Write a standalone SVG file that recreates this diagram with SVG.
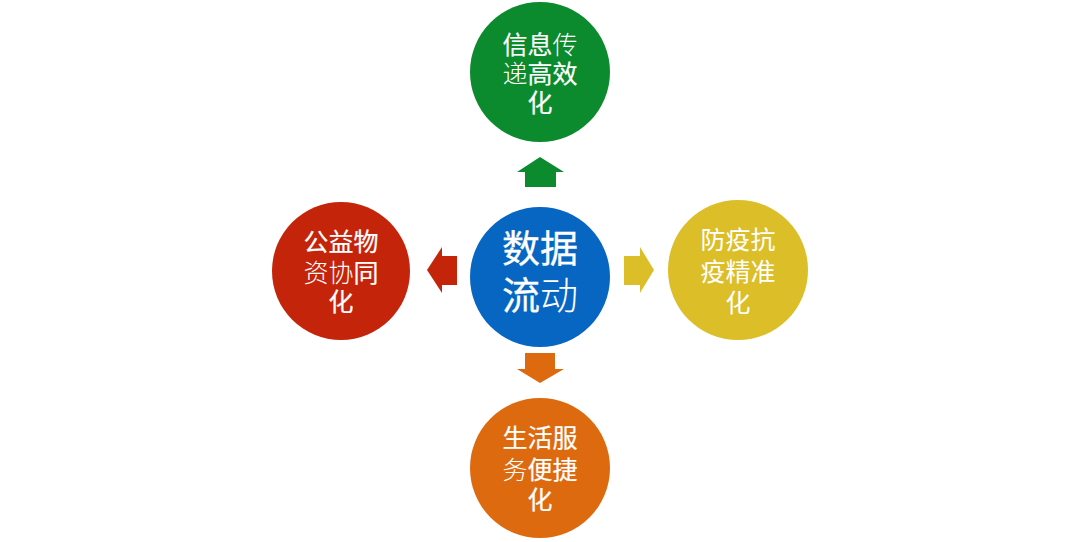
<svg xmlns="http://www.w3.org/2000/svg" width="1080" height="542" viewBox="0 0 1080 542">
<style>
text{font-family:"Noto Sans CJK SC","Noto Sans",sans-serif;fill:#fff;stroke:#fff;stroke-width:0.2;text-anchor:middle;dominant-baseline:central;font-size:25px;font-weight:normal}
.c{font-size:38px;stroke-width:0.3}
.t{font-weight:200;stroke-width:0}
.r{stroke-width:0}
</style>
<rect width="1080" height="542" fill="#fff"/>
<g id="connectors">
<polygon points="540,157 564,172 556,172 556,187 525,187 525,172 517,172" fill="#0B8A2E"/>
<polygon points="427,270 442,247 442,256 457,256 457,285 442,285 442,293" fill="#C4250A"/>
<polygon points="654,270 640,247 640,256 624,256 624,285 640,285 640,293" fill="#DBBE28"/>
<polygon points="540,383 564,369 555,369 555,353 525,353 525,369 517,369" fill="#DE6A10"/>
</g>
<g id="node-top">
<circle cx="540" cy="72" r="70" fill="#0B8A2E"/>
<text x="540" y="43">信息<tspan class="t">传</tspan></text>
<text x="540" y="72"><tspan class="t">递</tspan>高效</text>
<text x="540" y="101">化</text>
</g>
<g id="node-center">
<circle cx="540" cy="277" r="70" fill="#0766C2"/>
<text class="c" x="540" y="245">数据</text>
<text class="c" x="540" y="292">流<tspan class="t">动</tspan></text>
</g>
<g id="node-left">
<circle cx="341" cy="271" r="69" fill="#C4250A"/>
<text x="341" y="240">公益物</text>
<text x="341" y="271"><tspan class="t">资协</tspan>同</text>
<text x="341" y="300">化</text>
</g>
<g id="node-right">
<circle cx="738" cy="270" r="70" fill="#DBBE28"/>
<text class="r" x="738" y="238">防疫抗</text>
<text class="r" x="738" y="270">疫精准</text>
<text class="r" x="738" y="301">化</text>
</g>
<g id="node-bottom">
<circle cx="540" cy="468" r="70" fill="#DE6A10"/>
<text x="540" y="436">生活服</text>
<text x="540" y="468"><tspan class="t">务</tspan>便捷</text>
<text x="540" y="498">化</text>
</g>
</svg>
